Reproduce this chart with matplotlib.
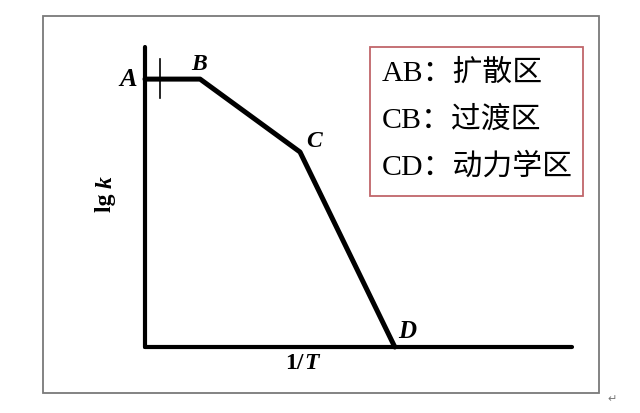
import matplotlib
matplotlib.use("Agg")
import matplotlib.pyplot as plt
from matplotlib.patches import Rectangle

# Data (schematic chart units)
inv_T = [0.0, 1.29, 3.63, 5.85]
lg_k = [8.93, 8.93, 6.5, 0.0]
tick_A_x = 0.35
tick_A_y = [8.3, 9.6]
point_names = ["A", "B", "C", "D"]
point_label_pos = [(-0.4, 8.9), (1.26, 9.4), (3.95, 6.85), (6.15, 0.5)]
point_label_size = [19, 17, 17, 18]
legend_lines = ["AB：扩散区", "CB：过渡区", "CD：动力学区"]

W, H = 640, 413
fig = plt.figure(figsize=(W / 100, H / 100), dpi=100)
fig.patch.set_facecolor("white")

# Outer page frame
fig.patches.append(Rectangle((43 / W, 1 - 393 / H), 556 / W, 377 / H,
                             transform=fig.transFigure, fill=False,
                             edgecolor="#7a7a7a", linewidth=1.3))
fig.text(612 / W, 1 - 399 / H, "↵", fontsize=8, color="#777777",
         ha="center", va="center", family="DejaVu Sans")

ax = fig.add_axes([145 / W, 1 - 347 / H, 427 / W, 300 / H])
ax.set_xlim(0, 10)
ax.set_ylim(0, 10)
ax.set_facecolor("none")
for s in ["top", "right"]:
    ax.spines[s].set_visible(False)
for s in ["left", "bottom"]:
    ax.spines[s].set_linewidth(3.0)
    ax.spines[s].set_color("black")
    ax.spines[s].set_capstyle("round")
ax.set_xticks([])
ax.set_yticks([])

ax.plot(inv_T, lg_k, color="black", linewidth=3.6, solid_joinstyle="round",
        solid_capstyle="round", clip_on=False)
ax.plot([tick_A_x, tick_A_x], tick_A_y, color="black", linewidth=1.2, clip_on=False)

for name, (px, py), fs in zip(point_names, point_label_pos, point_label_size):
    ax.text(px, py, name, fontsize=fs, fontweight="bold", fontstyle="italic",
            family="Liberation Serif", ha="center", va="center", clip_on=False)

ax.text(3.72, -0.55, "1/", fontsize=17, fontweight="bold", family="Liberation Serif",
        ha="right", va="center", clip_on=False)
ax.text(3.72, -0.55, "T", fontsize=17, fontweight="bold", fontstyle="italic",
        family="Liberation Serif", ha="left", va="center", clip_on=False)
ax.text(-0.92, 5.3, "lg ", fontsize=17, fontweight="bold", family="Liberation Serif",
        rotation=90, ha="center", va="top", clip_on=False)
ax.text(-0.92, 5.3, "k", fontsize=17, fontweight="bold", fontstyle="italic",
        family="Liberation Serif", rotation=90, ha="center", va="bottom", clip_on=False)

# Legend box
fig.patches.append(Rectangle((370 / W, 1 - 196 / H), 213 / W, 149 / H,
                             transform=fig.transFigure, fill=False,
                             edgecolor="#c0666a", linewidth=1.3))
for i, line in enumerate(legend_lines):
    fig.text(382 / W, 1 - (73 + 47 * i) / H, line, fontsize=21.5,
             family=["Liberation Serif", "Noto Sans CJK SC"],
             ha="left", va="center", color="black")

fig.savefig("out.png", dpi=100, facecolor="white")
